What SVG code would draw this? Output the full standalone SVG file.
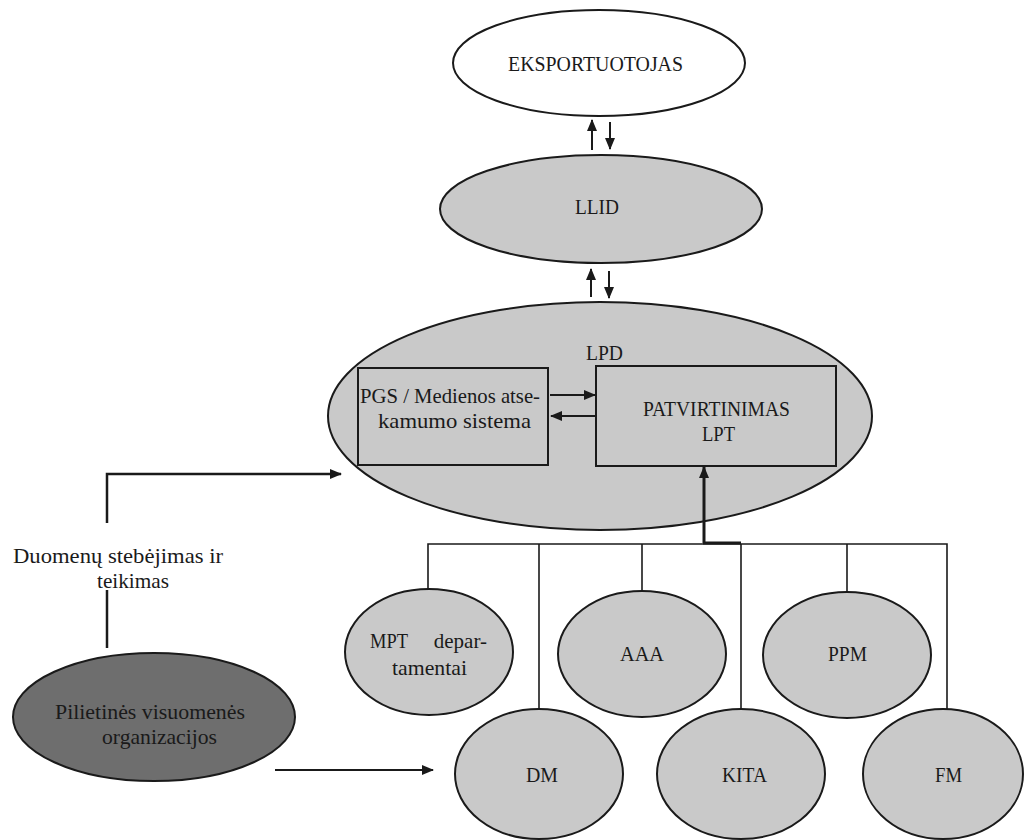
<svg xmlns="http://www.w3.org/2000/svg" width="1024" height="840" viewBox="0 0 1024 840">
<style>
.n{fill:#c9c9c9;stroke:#1a1a1a;stroke-width:2}
.w{fill:#ffffff;stroke:#1a1a1a;stroke-width:2}
.d{fill:#6e6e6e;stroke:#1a1a1a;stroke-width:2}
.b{fill:none;stroke:#1a1a1a;stroke-width:2}
.c{fill:none;stroke:#1a1a1a;stroke-width:2}
.bus{fill:none;stroke:#1a1a1a;stroke-width:1.6}
</style>
<defs>
<marker id="ah" markerUnits="userSpaceOnUse" markerWidth="12" markerHeight="10" refX="11" refY="5" orient="auto">
<path d="M0,0 L12,5 L0,10 z" fill="#1a1a1a"/>
</marker>
</defs>
<rect width="1024" height="840" fill="#ffffff"/>

<g font-family="'Liberation Serif', 'DejaVu Serif', 'Times New Roman', serif" font-size="21" fill="#1a1a1a">

<g id="eksportuotojas">
<ellipse class="w" cx="599" cy="63" rx="146" ry="53"/>
<text x="508" y="71" textLength="175" lengthAdjust="spacingAndGlyphs">EKSPORTUOTOJAS</text>
</g>

<g id="llid">
<ellipse class="n" cx="601" cy="209" rx="161" ry="54"/>
<text x="575" y="214" textLength="44" lengthAdjust="spacingAndGlyphs">LLID</text>
</g>

<g id="lpd">
<ellipse class="n" cx="600" cy="416" rx="272" ry="114"/>
<text x="586" y="360" textLength="37" lengthAdjust="spacingAndGlyphs">LPD</text>
</g>

<g id="pgs">
<rect class="b" x="358" y="368" width="190" height="97"/>
<text x="360" y="403" textLength="180" lengthAdjust="spacingAndGlyphs">PGS / Medienos atse-</text>
<text x="378" y="428" textLength="153" lengthAdjust="spacingAndGlyphs">kamumo sistema</text>
</g>

<g id="patvirtinimas">
<rect class="b" x="596" y="366" width="240" height="100"/>
<text x="643" y="416" textLength="147" lengthAdjust="spacingAndGlyphs">PATVIRTINIMAS</text>
<text x="702" y="441" textLength="33" lengthAdjust="spacingAndGlyphs">LPT</text>
</g>

<g id="mpt">
<ellipse class="n" cx="429" cy="652" rx="84" ry="63"/>
<text x="370" y="648" textLength="38" lengthAdjust="spacingAndGlyphs">MPT</text>
<text x="487" y="648" text-anchor="end">depar-</text>
<text x="392" y="675" textLength="75" lengthAdjust="spacingAndGlyphs">tamentai</text>
</g>

<g id="aaa">
<ellipse class="n" cx="642" cy="654" rx="84" ry="63"/>
<text x="620" y="661" textLength="44" lengthAdjust="spacingAndGlyphs">AAA</text>
</g>

<g id="ppm">
<ellipse class="n" cx="847" cy="655" rx="84" ry="63"/>
<text x="828" y="661" textLength="39" lengthAdjust="spacingAndGlyphs">PPM</text>
</g>

<g id="dm">
<ellipse class="n" cx="539" cy="774" rx="84" ry="65"/>
<text x="526" y="782" textLength="32" lengthAdjust="spacingAndGlyphs">DM</text>
</g>

<g id="kita">
<ellipse class="n" cx="741" cy="774" rx="84" ry="65"/>
<text x="722" y="782" textLength="45" lengthAdjust="spacingAndGlyphs">KITA</text>
</g>

<g id="fm">
<ellipse class="n" cx="943" cy="774" rx="80" ry="65"/>
<text x="935" y="782" textLength="27" lengthAdjust="spacingAndGlyphs">FM</text>
</g>

<g id="pilietines">
<ellipse class="d" cx="154" cy="717" rx="141" ry="64"/>
<text x="55" y="719" textLength="190" lengthAdjust="spacingAndGlyphs">Pilietinės visuomenės</text>
<text x="102" y="744" textLength="115" lengthAdjust="spacingAndGlyphs">organizacijos</text>
</g>

<g id="label-duomenu">
<text x="13" y="563" textLength="210" lengthAdjust="spacingAndGlyphs">Duomenų stebėjimas ir</text>
<text x="97" y="588" textLength="72" lengthAdjust="spacingAndGlyphs">teikimas</text>
</g>

</g>

<g id="connectors">
<line class="c" x1="592" y1="150" x2="592" y2="120" marker-end="url(#ah)"/>
<line class="c" x1="610" y1="122" x2="610" y2="149" marker-end="url(#ah)"/>
<line class="c" x1="591" y1="297" x2="591" y2="269" marker-end="url(#ah)"/>
<line class="c" x1="609" y1="271" x2="609" y2="298" marker-end="url(#ah)"/>
<line class="c" x1="550" y1="395" x2="595" y2="395" marker-end="url(#ah)"/>
<line class="c" x1="596" y1="416" x2="551" y2="416" marker-end="url(#ah)"/>
<line class="c" style="stroke-width:3" x1="704" y1="543" x2="704" y2="467" marker-end="url(#ah)"/>
<polyline class="bus" points="428,590 428,544 947,544 947,709"/>
<line class="c" style="stroke-width:3" x1="703" y1="543" x2="741" y2="543"/>
<line class="bus" x1="539" y1="544" x2="539" y2="709"/>
<line class="bus" x1="642" y1="544" x2="642" y2="591"/>
<line class="bus" x1="741" y1="544" x2="741" y2="709"/>
<line class="bus" x1="847" y1="544" x2="847" y2="592"/>
<polyline class="c" style="stroke-width:2.5" points="107,523 107,474 341,474" marker-end="url(#ah)"/>
<line class="c" style="stroke-width:2.5" x1="107" y1="590" x2="107" y2="648"/>
<line class="c" x1="275" y1="770" x2="433" y2="770" marker-end="url(#ah)"/>
</g>
</svg>
